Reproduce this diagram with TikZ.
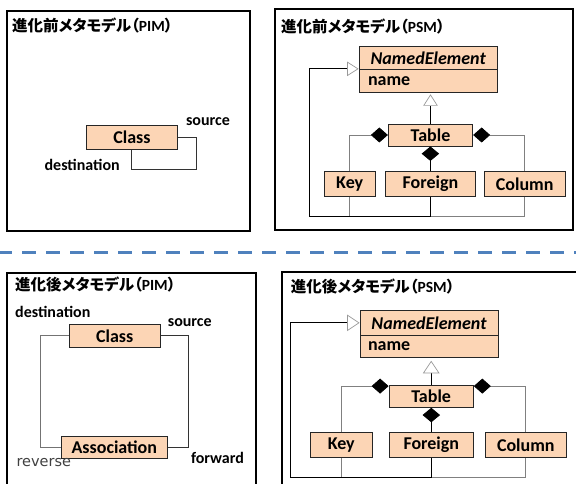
\documentclass[tikz,border=0pt]{standalone}
\usepackage{fontspec}
\setmainfont{Carlito}
\newfontfamily\jpfont{Noto Sans CJK JP}[RawFeature=+palt]
\newfontfamily\revfont{DejaVu Sans}
\usetikzlibrary{arrows.meta}
\definecolor{peach}{HTML}{FCD5B5}
\definecolor{sepblue}{HTML}{4F81BD}
\newcommand{\paneltitle}[1]{{\jpfont\bfseries\fontsize{15.5}{15.5}\selectfont #1}}
\newcommand{\tagtext}[1]{{\bfseries\fontsize{15.5}{15.5}\selectfont #1}}
\tikzset{
  panel/.style={draw=black, line width=1.8pt},
  umlbox/.style={draw=black!85, fill=peach, line width=0.9pt, inner sep=0pt,
    font=\bfseries\fontsize{18}{18}\selectfont},
  lbl/.style={inner sep=0pt, font=\bfseries\fontsize{16}{16}\selectfont},
  ttl/.style={anchor=west, inner sep=0pt},
  assoc/.style={draw=black!80, line width=0.7pt},
  assocl/.style={draw=black!55, line width=0.7pt},
  partline/.style={draw=black!50, line width=0.8pt},
  mainline/.style={draw=black, line width=0.8pt},
  gentipA/.tip={Triangle[fill=white, color=black!40, length=11.5pt, width=14.5pt, line width=0.7pt]},
  gentipB/.tip={Triangle[fill=white, color=black!40, length=12.5pt, width=16.5pt, line width=0.7pt]},
  compside/.tip={Diamond[color=black, fill=black, length=17pt, width=15pt]},
  compdown/.tip={Diamond[color=black, fill=black, length=14.5pt, width=17.5pt]},
}
\begin{document}
\begin{tikzpicture}[x=1pt, y=-1pt]
\useasboundingbox (0,0) rectangle (576,484);

% ---------- frames ----------
\draw[panel] (7.3,10.7) rectangle (250,230.7);
\draw[panel] (275,9.3) rectangle (573,230);
\draw[panel] (7.3,272.7) rectangle (256,492);
\draw[panel] (282,271.7) rectangle (582,492);

% separator between the two generations
\coordinate (sepL) at (0,252.3);
\coordinate (sepR) at (576,252.3);
\draw[sepblue, line width=3pt, dash pattern=on 13.3pt off 10.7pt, dash phase=1.6pt] (sepL) -- (sepR);

% ---------- titles ----------
\node[ttl] (tA) at (12,25) {\paneltitle{進化前メタモデル（}\tagtext{PIM}\paneltitle{）}};
\node[ttl] (tB) at (281,26.5) {\paneltitle{進化前メタモデル（}\tagtext{PSM}\paneltitle{）}};
\node[ttl] (tC) at (15,284) {\paneltitle{進化後メタモデル（}\tagtext{PIM}\paneltitle{）}};
\node[ttl] (tD) at (290.7,286.7) {\paneltitle{進化後メタモデル（}\tagtext{PSM}\paneltitle{）}};

% ---------- before: PIM ----------
\node[umlbox, minimum width=90.6pt, minimum height=24.3pt] (clsA) at (132,137.2) {Class};
\coordinate (rA1) at (196.7,169.3);
\coordinate (rA2) at (131.7,169.3);
\draw[assoc] (clsA.east) -| (rA1) -- (rA2) -- (rA2 |- clsA.south);
\node[lbl] (srcA) at (208,121.7) {source};
\node[lbl] (dstA) at (82.2,165) {destination};

% ---------- before: PSM ----------
\node[umlbox, minimum width=138.3pt, minimum height=22.6pt, font=\bfseries\itshape\fontsize{18}{18}\selectfont] (neTA) at (428.2,58) {NamedElement};
\node[umlbox, minimum height=23pt, text width=120.3pt, inner xsep=9pt, align=left] (neBA) at (428.2,80.8) {name};
\node[umlbox, minimum width=84.4pt, minimum height=22pt] (tblA) at (430.5,135) {Table};
\node[umlbox, minimum width=51.3pt, minimum height=25pt] (keyA) at (349.7,184) {Key};
\node[umlbox, minimum width=90.2pt, minimum height=25pt] (fnA) at (430.4,184) {Foreign};
\node[umlbox, minimum width=81.3pt, minimum height=25pt] (colA) at (524.7,184) {Column};
\coordinate (bA) at (309.7,216);
\draw[partline] (keyA.south) -- (keyA.south |- bA);
\draw[partline] (colA.south) |- (fnA.south |- bA);
\draw[mainline, -{gentipA}] (fnA.south) |- (bA) |- (neBA.north west);
\draw[mainline, -{gentipA}, shorten >=1.5pt] (tblA.north) -- (tblA.north |- neBA.south);
\draw[partline, -{compside}] (keyA.north) |- (tblA.west);
\draw[partline, -{compside}] (colA.north) |- (tblA.east);
\draw[mainline, -{compdown}] (fnA.north) -- (fnA.north |- tblA.south);

% ---------- after: PIM ----------
\node[umlbox, minimum width=90.7pt, minimum height=23pt] (clsB) at (114.7,335.8) {Class};
\node[umlbox, minimum width=106.7pt, minimum height=22.3pt] (asnB) at (114.3,447.2) {Association};
\coordinate (lB) at (40.7,445);
\coordinate (rB) at (188.3,445);
\draw[assocl] (clsB.west) -| (lB |- asnB.west) -- (asnB.west);
\draw[assoc] (clsB.east) -| (rB |- asnB.east) -- (asnB.east);
\node[lbl] (dstB) at (52.8,311.7) {destination};
\node[lbl] (srcB) at (189.8,322.3) {source};
\node[lbl] (fwdB) at (217.5,458.3) {forward};
\node[inner sep=0pt, text=black!75, font=\revfont\fontsize{14.5}{14.5}\selectfont] (revB) at (43.8,462.7) {reverse};

% ---------- after: PSM ----------
\node[umlbox, minimum width=138pt, minimum height=24.3pt, font=\bfseries\itshape\fontsize{18}{18}\selectfont] (neTB) at (429,322.85) {NamedElement};
\node[umlbox, minimum height=22.3pt, text width=122pt, inner xsep=8pt, align=left] (neBB) at (429,346.15) {name};
\node[umlbox, minimum width=84.3pt, minimum height=22.3pt] (tblB) at (431.2,396.2) {Table};
\node[umlbox, minimum width=61.3pt, minimum height=24.6pt] (keyB) at (341.3,445) {Key};
\node[umlbox, minimum width=83.3pt, minimum height=24.6pt] (fnB) at (431.3,445) {Foreign};
\node[umlbox, minimum width=81pt, minimum height=24.6pt] (colB) at (525.8,445) {Column};
\coordinate (bB) at (290.7,477.3);
\draw[partline] (keyB.south) -- (keyB.south |- bB);
\draw[partline] (colB.south) |- (fnB.south |- bB);
\draw[mainline, -{gentipB}] (fnB.south) |- (bB) |- (neTB.west);
\draw[mainline, -{gentipB}, shorten >=3pt] (tblB.north) -- (tblB.north |- neBB.south);
\draw[partline, -{compside}] (keyB.north) |- ([yshift=-1.5pt]tblB.north west);
\draw[partline, -{compside}] (colB.north) |- ([yshift=-1.5pt]tblB.north east);
\draw[mainline, -{compdown}] (fnB.north) -- (fnB.north |- tblB.south);
\end{tikzpicture}
\end{document}
